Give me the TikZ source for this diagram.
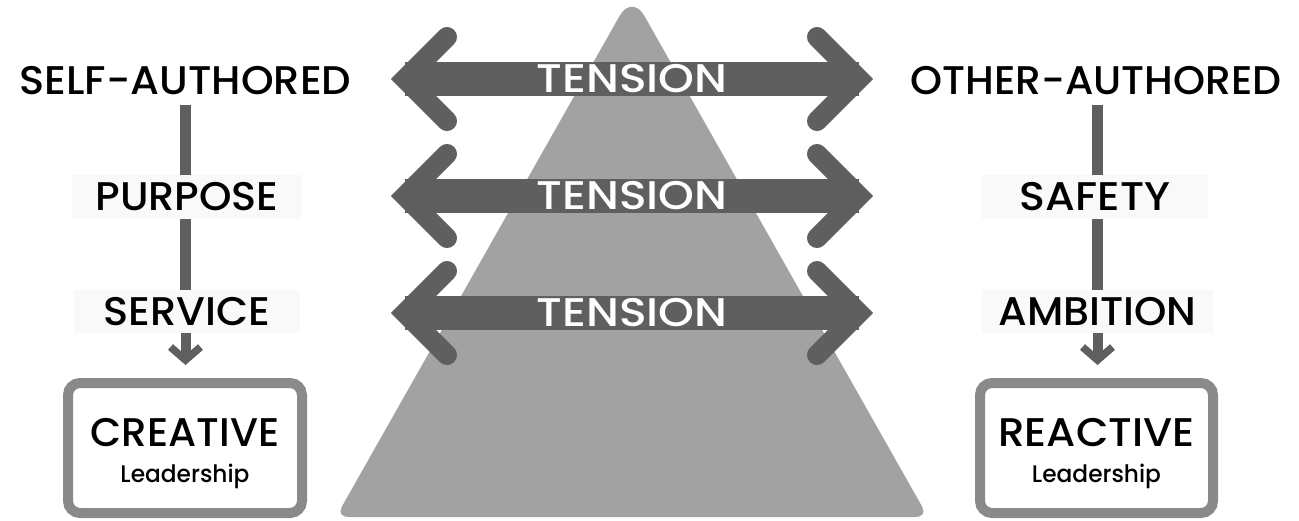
\documentclass[tikz,border=0pt]{standalone}
\usepackage{fontspec}
\usepackage{graphicx}
\setmainfont{Poppins}[UprightFont=* Medium]
\usetikzlibrary{arrows.meta}
\definecolor{arrowgray}{HTML}{5F5F5F}
\definecolor{trigray}{HTML}{A2A2A2}
\definecolor{boxgray}{HTML}{8A8A8A}
\definecolor{labelbg}{HTML}{F9F9F9}
\newcommand\widetext[2]{\scalebox{#1}[1]{#2}}
\begin{document}
\begin{tikzpicture}[x=1pt,y=-1pt,
  bigtext/.style={font=\fontsize{40}{48}\selectfont, text=black, inner sep=0pt},
  smalltext/.style={font=\fontsize{24}{28}\selectfont, text=black, inner sep=0pt, anchor=base},
  toplabel/.style={bigtext, inner ysep=10pt},
  midlabel/.style={bigtext, fill=labelbg, minimum height=44pt},
  vline/.style={draw=arrowgray, line width=10.5pt},
  varrow/.style={draw=arrowgray, line width=10pt, shorten >=13pt,
    -{Straight Barb[length=13pt, width=30pt, line width=7.5pt]}},
  leadbox/.style={draw=boxgray, fill=white, line width=10pt, rounded corners=12pt,
    minimum width=234pt, minimum height=130pt, inner sep=0pt},
  shaft/.style={draw=arrowgray, line width=34pt},
  chev/.style={draw=arrowgray, line width=20pt, line join=miter, line cap=round},
  tensiontext/.style={font=\fontsize{40}{48}\selectfont, text=white, inner sep=0pt}
]
\useasboundingbox (0,0) rectangle (1299,520);

% pyramid
\fill[trigray] (632,517) [rounded corners=12pt] -- (336,517) [rounded corners=25pt] -- (632,-6) [rounded corners=12pt] -- (928,517) -- cycle;

% tension arrows
\foreach \i/\yc in {1/79, 2/196, 3/313} {
  \coordinate (L\i) at (405,\yc);
  \coordinate (R\i) at (859,\yc);
  \draw[shaft] (L\i) -- (R\i) node[midway, tensiontext] {\widetext{1.14}{TENSION}};
  \draw[chev] ([shift={(42,-42)}]L\i) -- (L\i) -- ([shift={(42,42)}]L\i);
  \draw[chev] ([shift={(-42,-42)}]R\i) -- (R\i) -- ([shift={(-42,42)}]R\i);
}

% left column
\node[toplabel] (self) at (185.5,81) {\widetext{1.04}{SELF-AUTHORED}};
\node[midlabel, minimum width=230pt] (purpose) at (187,197) {\widetext{1.035}{PURPOSE}};
\node[midlabel, minimum width=226pt, minimum height=43pt] (service) at (187,311.5) {\widetext{1.04}{SERVICE}};
\node[leadbox] (creative) at (185,448) {};
\node[bigtext, anchor=base] (creativet) at (185,446) {\widetext{1.01}{CREATIVE}};
\node[smalltext] (creativel) at (185,482) {\widetext{0.97}{Leadership}};
\draw[vline] (self.south) -- (self.south |- purpose.north);
\draw[vline] (self.south |- purpose.south) -- (self.south |- service.north);
\draw[varrow] (self.south |- service.south) -- (self.south |- creative.north);

% right column
\node[toplabel] (other) at (1096,81) {\widetext{1.02}{OTHER-AUTHORED}};
\node[midlabel, minimum width=226pt] (safety) at (1095,197) {\widetext{1.07}{SAFETY}};
\node[midlabel, minimum width=231pt, minimum height=43pt] (ambition) at (1097.5,311.5) {\widetext{1.03}{AMBITION}};
\node[leadbox, minimum width=233pt] (reactive) at (1096.5,448) {};
\node[bigtext, anchor=base] (reactivet) at (1096.5,446) {\widetext{1.05}{REACTIVE}};
\node[smalltext] (reactivel) at (1096.5,482) {\widetext{0.97}{Leadership}};
\coordinate (rc) at (1097.5,0);
\draw[vline] (rc |- other.south) -- (rc |- safety.north);
\draw[vline] (rc |- safety.south) -- (rc |- ambition.north);
\draw[varrow] (rc |- ambition.south) -- (rc |- reactive.north);
\end{tikzpicture}
\end{document}
